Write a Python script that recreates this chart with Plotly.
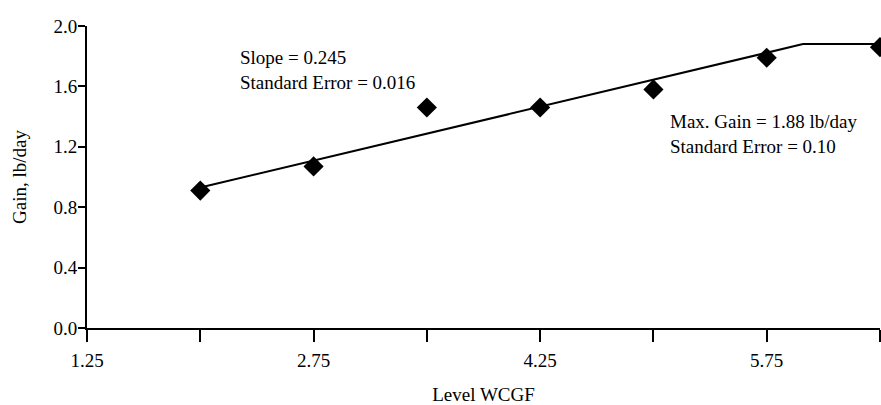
import plotly.graph_objects as go

level = [2.0, 2.75, 3.5, 4.25, 5.0, 5.75, 6.5]
gain = [0.91, 1.07, 1.46, 1.46, 1.58, 1.79, 1.86]

fit_x = [2.0, 5.99, 6.5]
fit_y = [0.93, 1.88, 1.88]

x_tickvals = [1.25, 2.0, 2.75, 3.5, 4.25, 5.0, 5.75, 6.5]
x_ticktext = ["1.25", "", "2.75", "", "4.25", "", "5.75", ""]
y_tickvals = [0.0, 0.4, 0.8, 1.2, 1.6, 2.0]
y_ticktext = ["0.0", "0.4", "0.8", "1.2", "1.6", "2.0"]

FONT = "Liberation Serif, Times New Roman, serif"
FS = 19

fig = go.Figure()
fig.add_trace(go.Scatter(x=fit_x, y=fit_y, mode="lines",
                         line=dict(color="black", width=2), hoverinfo="skip",
                         cliponaxis=False))
fig.add_trace(go.Scatter(x=level, y=gain, mode="markers",
                         marker=dict(symbol="diamond", size=15.5, color="black"),
                         cliponaxis=False))

fig.update_layout(
    width=881, height=405,
    margin=dict(l=87, r=1, t=26, b=77, autoexpand=False),
    paper_bgcolor="white", plot_bgcolor="white",
    showlegend=False,
    font=dict(family=FONT, size=FS, color="black"),
    xaxis=dict(range=[1.25, 6.5], tickvals=x_tickvals, ticktext=x_ticktext,
               ticks="outside", ticklen=12, tickwidth=1.5, tickcolor="black",
               showline=True, linecolor="black", linewidth=2,
               showgrid=False, zeroline=False, automargin=False,
               tickfont=dict(size=FS), ticklabelstandoff=2,
               title=dict(text="Level WCGF", font=dict(size=FS), standoff=22)),
    yaxis=dict(range=[0, 2.0], tickvals=y_tickvals, ticktext=y_ticktext,
               ticks="outside", ticklen=7, tickwidth=1.5, tickcolor="black",
               showline=True, linecolor="black", linewidth=2,
               showgrid=False, zeroline=False, automargin=False,
               tickfont=dict(size=FS), ticklabelstandoff=-3,
               title=dict(text="Gain, lb/day", font=dict(size=FS), standoff=22)),
)

fig.add_annotation(x=(238 - 87) / 793, y=(328 - 45) / 302, xref="paper", yref="paper",
                   text="Slope = 0.245<br>Standard Error = 0.016", showarrow=False,
                   xanchor="left", yanchor="top", align="left",
                   font=dict(family=FONT, size=FS, color="black"))
fig.add_annotation(x=(668 - 87) / 793, y=(328 - 109) / 302, xref="paper", yref="paper",
                   text="Max. Gain = 1.88 lb/day<br>Standard Error = 0.10", showarrow=False,
                   xanchor="left", yanchor="top", align="left",
                   font=dict(family=FONT, size=FS, color="black"))

fig.write_html("out.html", config={"displayModeBar": False},
               post_script="document.body.style.margin='0';document.body.style.overflow='hidden';")
